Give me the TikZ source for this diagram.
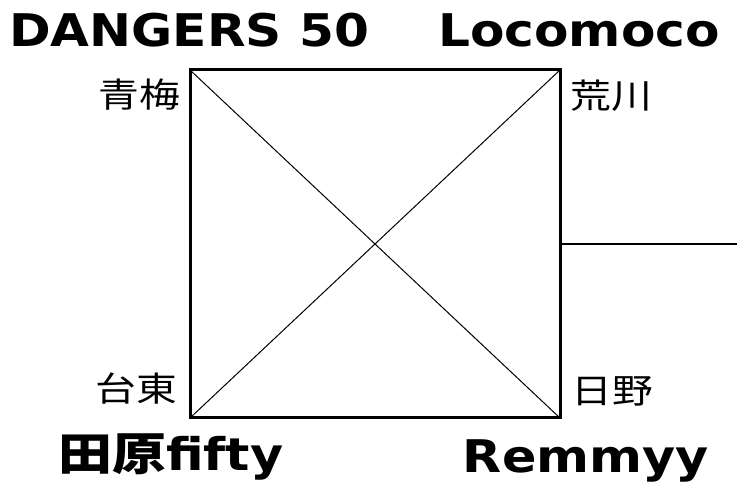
\documentclass[tikz,border=0pt]{standalone}
\usepackage{fontspec}
\newfontfamily\latb{DejaVu Sans}[FakeStretch=1.13]
\newfontfamily\latt{DejaVu Sans}[FakeStretch=1.115]
\newfontfamily\cjk{Noto Sans CJK JP}[FakeStretch=1.2]
\begin{document}
\begin{tikzpicture}[x=1pt,y=-1pt,
  title/.style={inner sep=0pt,font=\latt\bfseries\fontsize{45}{45}\selectfont},
  btitle/.style={inner sep=0pt,font=\latb\bfseries\fontsize{45}{45}\selectfont},
  place/.style={inner sep=0pt,font=\cjk\fontsize{34}{34}\selectfont},
  frame/.style={draw,line width=3pt,outer sep=0pt,inner sep=0pt,minimum width=370pt,minimum height=348pt},
  diag/.style={line width=1pt},
  wire/.style={line width=2.5pt}]
\useasboundingbox (0,0) rectangle (737,486);
\node[frame] (sq) at (375,244) {};
\draw[diag] (sq.north west) -- (sq.south east);
\draw[diag] (sq.south west) -- (sq.north east);
\coordinate (tail) at (737,242);
\draw[wire] (sq.east) -- (sq.east -| tail);
\node[title,anchor=base west] (t1) at (9,47) {DANGERS 50};
\node[title,anchor=base east] (t2) at (720,47) {Locomoco};
\node[place,anchor=east] (p1) at (180,95) {青梅};
\node[place,anchor=west] (p2) at (570,96) {荒川};
\node[place,anchor=east] (p3) at (177,389) {台東};
\node[place,anchor=west] (p4) at (571,391) {日野};
\node[btitle,anchor=base west] (b1) at (58,471) {{\cjk\bfseries 田原}fifty};
\node[btitle,anchor=base east] (b2) at (709,472) {Remmyy};
\end{tikzpicture}
\end{document}
